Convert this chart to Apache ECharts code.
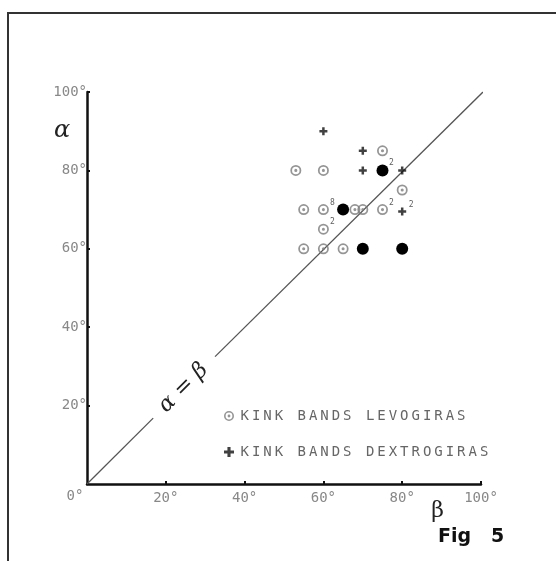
<!DOCTYPE html>
<html>
<head>
<meta charset="utf-8">
<script src="https://cdn.jsdelivr.net/npm/echarts@6/dist/echarts.min.js"></script>
<style>
html,body{margin:0;padding:0;background:#fff;}
#chart{width:556px;height:561px;}
</style>
</head>
<body>
<div id="chart"></div>
<script>
// ---- data ----
const levoName = 'KINK BANDS LEVOGIRAS';
const dextroName = 'KINK BANDS DEXTROGIRAS';
const levoPoints = [
  [53, 80], [60, 80], [75, 85], [80, 75],
  [55, 70], [60, 70], [68, 70], [70, 70], [75, 70],
  [60, 65],
  [55, 60], [60, 60], [65, 60]
];
const dextroPoints = [
  [60, 90], [70, 85], [70, 80], [80, 80], [80, 69.5]
];
const bothPoints = [
  [75, 80], [65, 70], [70, 60], [80, 60]
];
// small count annotations: [beta, alpha, count]
const countPoints = [
  [75, 80, '2'], [60, 70, '8'], [75, 70, '2'], [80, 69.5, '2'], [60, 65, '2']
];
// identity line alpha = beta, with a gap for its label
const lineLower = [[0, 0], [16.8, 16.8]];
const lineUpper = [[32.5, 32.5], [100.5, 100]];
const lineLabelAt = [24.5, 24.5];
const lineLabel = 'α = β';
const xTickValues = [0, 20, 40, 60, 80, 100];
const yTickValues = [0, 20, 40, 60, 80, 100];
const degree = '°';
const xName = 'β';
const yName = 'α';
const figLabel = 'Fig   5';

// ---- styles ----
const levoSymbol = 'path://M0,-5 A5,5 0 1,1 0,5 A5,5 0 1,1 0,-5 Z M0,-3.4 A3.4,3.4 0 1,0 0,3.4 A3.4,3.4 0 1,0 0,-3.4 Z M0,-1.4 A1.4,1.4 0 1,1 0,1.4 A1.4,1.4 0 1,1 0,-1.4 Z';
const dextroSymbol = 'path://M-1.4,-4.5 L1.4,-4.5 L1.4,-1.4 L4.5,-1.4 L4.5,1.4 L1.4,1.4 L1.4,4.5 L-1.4,4.5 L-1.4,1.4 L-4.5,1.4 L-4.5,-1.4 L-1.4,-1.4 Z';
const monoFont = '"DejaVu Sans Mono", monospace';

function spaced(s) {
  return s.split('').map(c => '{c|' + (c === ' ' ? '\u00a0' : c) + '}').join('');
}

const chart = echarts.init(document.getElementById('chart'), null, {renderer: 'canvas'});

const lineStyle = {color: '#555', width: 1.3};

const option = {
  backgroundColor: '#fff',
  animation: false,
  grid: {left: 87, right: 75, top: 92, bottom: 77, containLabel: false},
  xAxis: {
    type: 'value', min: 0, max: 100, interval: 20,
    axisLine: {show: true, onZero: false, lineStyle: {color: '#111', width: 2.5}},
    axisTick: {show: true, inside: true, length: 3, lineStyle: {color: '#111', width: 2}},
    splitLine: {show: false},
    axisLabel: {
      show: true, margin: 7, color: '#888', fontSize: 14, fontFamily: monoFont,
      showMinLabel: false,
      formatter: v => (xTickValues.includes(v) ? v + degree : '')
    }
  },
  yAxis: {
    type: 'value', min: 0, max: 100, interval: 20,
    axisLine: {show: true, onZero: false, lineStyle: {color: '#111', width: 2.5}},
    axisTick: {show: true, inside: true, length: 3, lineStyle: {color: '#111', width: 2}},
    splitLine: {show: false},
    axisLabel: {
      show: true, margin: 0, color: '#888', fontSize: 14, fontFamily: monoFont,
      showMinLabel: false,
      formatter: v => (yTickValues.includes(v) ? v + degree : '')
    }
  },
  legend: {
    show: true, orient: 'vertical', left: 219, top: 404,
    itemWidth: 10, itemHeight: 10, itemGap: 22,
    data: [levoName, dextroName],
    formatter: name => spaced(name),
    textStyle: {
      color: '#666', fontSize: 14, fontFamily: monoFont,
      rich: {c: {width: 11.4, align: 'center', fontSize: 14, fontFamily: monoFont, color: '#666'}}
    }
  },
  series: [
    {
      type: 'line', name: 'id1', data: lineLower, symbol: 'none',
      lineStyle: lineStyle, silent: true, z: 1
    },
    {
      type: 'line', name: 'id2', data: lineUpper, symbol: 'none',
      lineStyle: lineStyle, silent: true, z: 1
    },
    {
      type: 'scatter', name: levoName, data: levoPoints,
      symbol: levoSymbol, symbolSize: 11,
      itemStyle: {color: '#7a7a7a'}, z: 3
    },
    {
      type: 'scatter', name: dextroName, data: dextroPoints,
      symbol: dextroSymbol, symbolSize: 8,
      itemStyle: {color: '#111'}, z: 3
    },
    {
      type: 'scatter', name: 'both', data: bothPoints,
      symbol: 'circle', symbolSize: 12,
      itemStyle: {color: '#000', opacity: 1}, z: 4
    },
    {
      type: 'scatter', name: 'counts', data: countPoints.map(p => ({value: [p[0], p[1]], cnt: p[2]})),
      symbol: 'circle', symbolSize: 1, z: 5, silent: true,
      itemStyle: {color: 'rgba(0,0,0,0)'},
      label: {
        show: true, position: 'right', offset: [1, -7],
        formatter: p => p.data.cnt,
        fontSize: 8, color: '#333', fontFamily: monoFont
      }
    }
  ]
};
chart.setOption(option);

// text annotations positioned through the chart's scales
const lp = chart.convertToPixel({gridIndex: 0}, lineLabelAt);
const origin = chart.convertToPixel({gridIndex: 0}, [0, 0]);
const xEnd = chart.convertToPixel({gridIndex: 0}, [89, 0]);
const yMark = chart.convertToPixel({gridIndex: 0}, [0, 90]);

chart.setOption({
  graphic: [
    {
      type: 'polyline', silent: true,
      shape: {points: [[556, 13], [8, 13], [8, 561]]},
      style: {stroke: '#333', lineWidth: 2, fill: null}
    },
    {
      type: 'text', x: lp[0], y: lp[1], rotation: Math.PI / 4,
      style: {
        text: lineLabel, align: 'center', verticalAlign: 'middle',
        font: 'italic 22px "DejaVu Serif", serif', fill: '#222'
      }
    },
    {
      type: 'text', x: origin[0] - 12, y: origin[1] + 12,
      style: {
        text: '0' + degree, align: 'center', verticalAlign: 'middle',
        font: '14px ' + monoFont, fill: '#888'
      }
    },
    {
      type: 'text', x: xEnd[0], y: xEnd[1] + 27,
      style: {
        text: xName, align: 'center', verticalAlign: 'middle',
        font: '22px "DejaVu Serif", serif', fill: '#222'
      }
    },
    {
      type: 'text', x: yMark[0] - 25, y: yMark[1],
      style: {
        text: yName, align: 'center', verticalAlign: 'middle',
        font: 'italic 24px "DejaVu Serif", serif', fill: '#222'
      }
    },
    {
      type: 'text', x: 438, y: 537,
      style: {
        text: figLabel, align: 'left', verticalAlign: 'middle',
        font: 'bold 19px "DejaVu Sans", sans-serif', fill: '#111'
      }
    }
  ]
});
</script>
</body>
</html>
